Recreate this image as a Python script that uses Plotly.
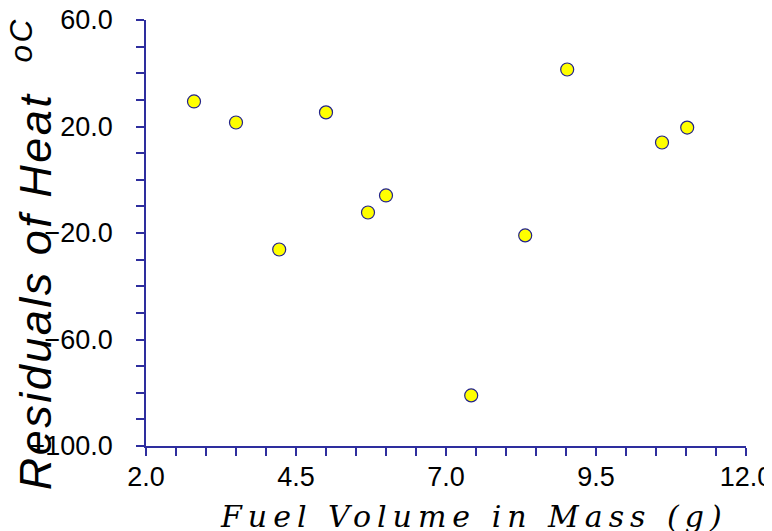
import plotly.graph_objects as go

# Data
fuel_mass = [2.8, 3.5, 4.22, 5.0, 5.7, 6.0, 7.42, 8.32, 9.02, 10.6, 11.02]
heat_residuals = [29.4, 21.5, -26.2, 25.3, -12.3, -5.9, -81.0, -20.9, 41.4, 14.0, 19.6]

x_title = "Fuel Volume in Mass (g)"
y_title = "Residuals of Heat  <sup>oC</sup>"

axis_color = "#2e2e9e"

fig = go.Figure()
fig.add_trace(go.Scatter(
    x=fuel_mass, y=heat_residuals, mode="markers",
    marker=dict(size=13, color="#ffff00", line=dict(color="#22228a", width=1.2)),
    showlegend=False, cliponaxis=False,
))

# page body adds an 8px offset; figure sized so the plot lands where the reference has it
fig.update_layout(
    width=764, height=523,
    margin=dict(l=138, r=26, t=12, b=85, autoexpand=False),
    paper_bgcolor="white", plot_bgcolor="white",
    font=dict(family="Liberation Sans, Arial", color="black"),
)

fig.update_xaxes(
    range=[2, 12], tick0=2, dtick=2.5, tickformat=".1f", automargin=False,
    showgrid=False, zeroline=False,
    showline=True, linecolor=axis_color, linewidth=1.5,
    ticks="outside", ticklen=8, tickcolor=axis_color, tickwidth=1.5,
    ticklabelstandoff=-2, ticklabeloverflow="allow",
    tickfont=dict(size=27, family="Liberation Sans, Arial", color="black"),
    minor=dict(dtick=0.5, tick0=2, ticks="outside", ticklen=8, tickcolor=axis_color, tickwidth=1.5, showgrid=False),
)
fig.update_yaxes(
    range=[-100, 60], tick0=-100, dtick=40, tickformat=".1f", automargin=False,
    showgrid=False, zeroline=False,
    showline=True, linecolor=axis_color, linewidth=1.5,
    ticks="outside", ticklen=8, tickcolor=axis_color, tickwidth=1.5,
    ticklabelstandoff=18, ticklabeloverflow="allow",
    tickfont=dict(size=27, family="Liberation Sans, Arial", color="black"),
    minor=dict(dtick=10, tick0=-100, ticks="outside", ticklen=8, tickcolor=axis_color, tickwidth=1.5, showgrid=False),
)

fig.add_annotation(
    text='<span style="letter-spacing:6px">' + x_title + '</span>',
    xref="paper", yref="paper", x=0.547, y=-0.165,
    xanchor="center", yanchor="middle", showarrow=False,
    font=dict(family="DejaVu Serif", size=30, color="black", style="italic"),
)
fig.add_annotation(
    text='<span style="letter-spacing:2.5px">' + y_title + '</span>',
    xref="paper", yref="paper", x=-0.19, y=0.45,
    xanchor="center", yanchor="middle", textangle=-90, showarrow=False,
    font=dict(family="Liberation Sans, Arial", size=45, color="black", style="italic"),
)

fig.write_html("out.html")
